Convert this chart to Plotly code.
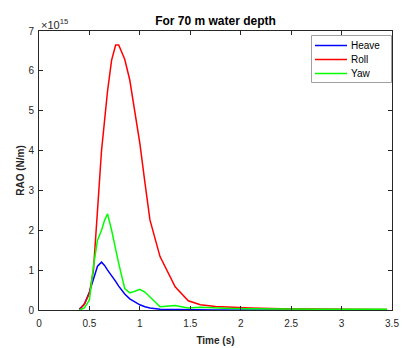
import plotly.graph_objects as go

time_s = [0.40, 0.45, 0.50, 0.54, 0.58, 0.62, 0.65, 0.68, 0.72, 0.76, 0.79, 0.85, 0.90,
          0.95, 1.00, 1.05, 1.10, 1.20, 1.35, 1.48, 1.60, 1.75, 1.90, 2.10, 2.40, 2.80, 3.45]
# values in units of 1e15 N/m
heave = [0.02, 0.15, 0.45, 0.80, 1.10, 1.20, 1.12, 1.00, 0.87, 0.72, 0.60, 0.40, 0.28,
         0.20, 0.13, 0.08, 0.05, 0.02, 0.01, 0.0, 0.0, 0.0, 0.0, 0.0, 0.0, 0.0, 0.0]
roll = [0.0, 0.15, 0.42, 1.00, 2.50, 4.00, 4.75, 5.50, 6.27, 6.65, 6.65, 6.29, 5.77,
        5.00, 4.18, 3.20, 2.26, 1.34, 0.58, 0.23, 0.13, 0.09, 0.07, 0.05, 0.03, 0.02, 0.01]
yaw = [0.0, 0.05, 0.25, 1.10, 1.75, 2.00, 2.25, 2.41, 2.00, 1.50, 1.17, 0.54, 0.43,
       0.47, 0.52, 0.45, 0.33, 0.08, 0.11, 0.05, 0.07, 0.05, 0.04, 0.03, 0.02, 0.02, 0.02]

series = [("Heave", heave, "#0000FF"), ("Roll", roll, "#FF0000"), ("Yaw", yaw, "#00FF00")]

x_ticks = [0, 0.5, 1, 1.5, 2, 2.5, 3, 3.5]
x_tick_text = ["0", "0.5", "1", "1.5", "2", "2.5", "3", "3.5"]
y_ticks = [0, 1, 2, 3, 4, 5, 6, 7]

FONT = "Liberation Sans, Arial, sans-serif"
AX = "#262626"

W, H = 409, 348
L, R, T, B = 39, 17, 31, 38
PW, PH = W - L - R, H - T - B


def px(xp):
    return (xp - L) / PW


def py(yp):
    return (H - B - yp) / PH


fig = go.Figure()
for name, vals, col in series:
    fig.add_trace(go.Scatter(x=time_s, y=vals, mode="lines", name=name,
                             line=dict(color=col, width=1.5), showlegend=False))

axis_common = dict(showline=True, linecolor=AX, linewidth=1, mirror="ticks",
                   ticks="inside", ticklen=4, tickcolor=AX, showgrid=False, zeroline=False,
                   automargin=False,
                   tickfont=dict(family=FONT, size=10, color=AX))

# legend drawn as a box with line samples and labels
shapes = [dict(type="rect", xref="paper", yref="paper", x0=px(311.5), x1=px(391.5),
               y0=py(82.5), y1=py(35.5), line=dict(color="#A0A0A0", width=1),
               fillcolor="white", layer="above")]
annotations = []
for i, (name, vals, col) in enumerate(series):
    yy = 45.5 + i * 14
    shapes.append(dict(type="line", xref="paper", yref="paper", x0=px(315), x1=px(347),
                       y0=py(yy), y1=py(yy), line=dict(color=col, width=1.5), layer="above"))
    annotations.append(dict(text=name, xref="paper", yref="paper", x=px(349), y=py(yy),
                            xanchor="left", yanchor="middle", showarrow=False,
                            font=dict(family=FONT, size=10, color="black")))

annotations.append(dict(text="×10<sup>15</sup>", xref="paper", yref="paper", x=0, y=1,
                        xanchor="left", yanchor="bottom", showarrow=False, yshift=-2,
                        font=dict(family=FONT, size=11, color=AX)))

fig.update_layout(
    width=W, height=H,
    margin=dict(l=L, r=R, t=T, b=B),
    paper_bgcolor="white", plot_bgcolor="white",
    title=dict(text="<b>For 70 m water depth</b>", x=(L + W - R) / 2 / W, xanchor="center",
               y=1 - 21 / H, yanchor="middle", yref="container",
               font=dict(family=FONT, size=12, color="black")),
    xaxis=dict(range=[0, 3.5], tickvals=x_ticks, ticktext=x_tick_text,
               ticklabelstandoff=4,
               title=dict(text="<b>Time (s)</b>", font=dict(family=FONT, size=10, color=AX),
                          standoff=8),
               **axis_common),
    yaxis=dict(range=[0, 7], tickvals=y_ticks, ticklabelstandoff=2,
               title=dict(text="<b>RAO (N/m)</b>", font=dict(family=FONT, size=10, color=AX),
                          standoff=1),
               **axis_common),
    showlegend=False,
    shapes=shapes,
    annotations=annotations,
)

fig.write_html("out.html")
